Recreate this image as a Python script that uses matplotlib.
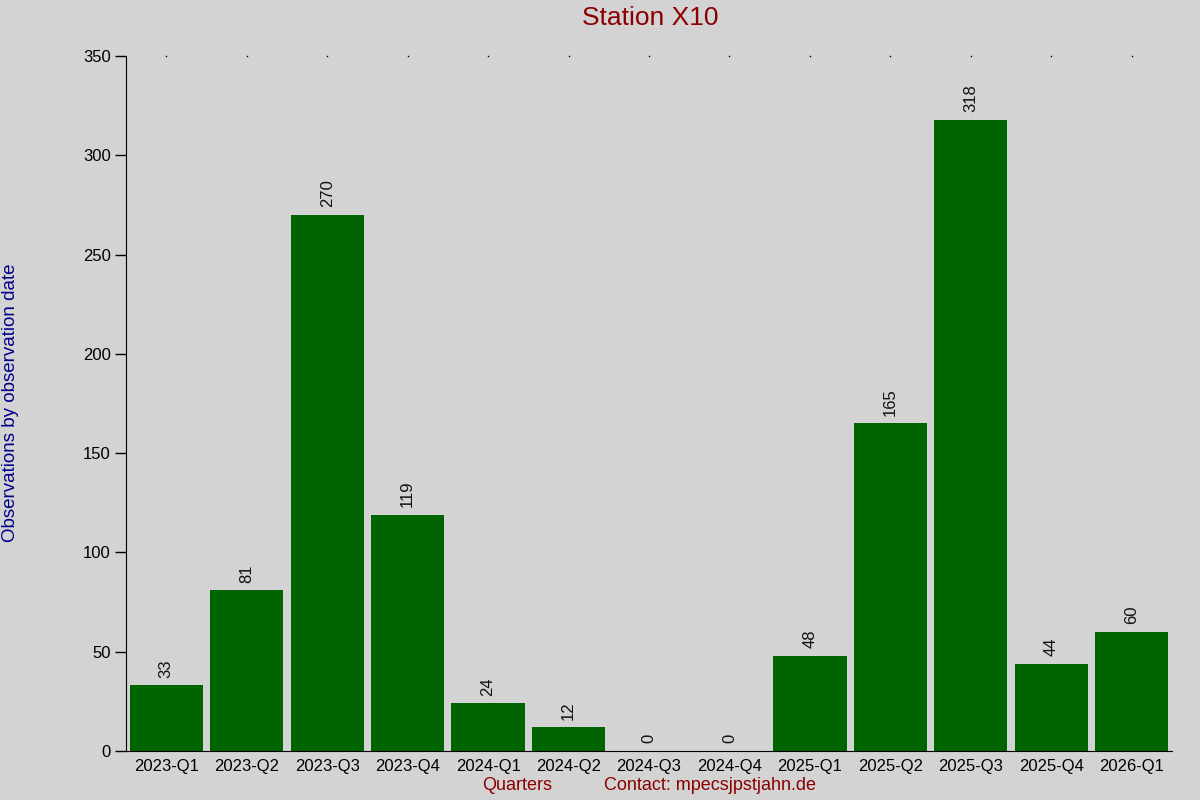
import matplotlib
matplotlib.use("Agg")
import matplotlib.pyplot as plt

categories = ["2023-Q1", "2023-Q2", "2023-Q3", "2023-Q4", "2024-Q1", "2024-Q2",
              "2024-Q3", "2024-Q4", "2025-Q1", "2025-Q2", "2025-Q3", "2025-Q4", "2026-Q1"]
values = [33, 81, 270, 119, 24, 12, 0, 0, 48, 165, 318, 44, 60]
yticks = [0, 50, 100, 150, 200, 250, 300, 350]

plt.rcParams['font.family'] = ['Liberation Sans', 'DejaVu Sans']
bg = '#d3d3d3'
fig = plt.figure(figsize=(12, 8), dpi=100, facecolor=bg)
ax = fig.add_axes([126/1200, 1-751/800, (1172-126)/1200, (751-56)/800], facecolor=bg)

x = list(range(len(categories)))
ax.bar(x, values, width=0.91, color='#006400')
for xi, v in zip(x, values):
    ax.annotate(str(v), (xi, v), xytext=(0, 5.5), textcoords='offset points',
                rotation=90, ha='center', va='bottom', fontsize=12, color='#111111')

ax.set_xlim(-0.5, len(categories) - 0.5)
ax.set_ylim(0, 350)
ax.set_yticks(yticks)
ax.set_xticks(x)
ax.set_xticklabels(categories, fontsize=12)
ax.tick_params(axis='y', labelsize=12, length=8, width=1, direction='out', pad=3)
ax.tick_params(axis='x', length=0, pad=6)
ax.spines['top'].set_visible(False)
ax.spines['right'].set_visible(False)

# tiny dots along top at category positions
for xi in x:
    ax.plot(xi, 350, marker='s', markersize=1, color='black', clip_on=False, markeredgewidth=0)

fig.text(650/1200, 1-18/800, "Station X10", ha='center', va='center', fontsize=19, color='#8b0000')
fig.text(11/1200, 1-403/800, "Observations by observation date", rotation=90,
         ha='center', va='center', fontsize=13.5, color='#00008b')
fig.text(517/1200, 1-786/800, "Quarters", ha='center', va='center', fontsize=13, color='#8b0000')
fig.text(710/1200, 1-786/800, "Contact: mpecsjpstjahn.de", ha='center', va='center', fontsize=13, color='#8b0000')

fig.savefig("out.png", dpi=100, facecolor=bg)
